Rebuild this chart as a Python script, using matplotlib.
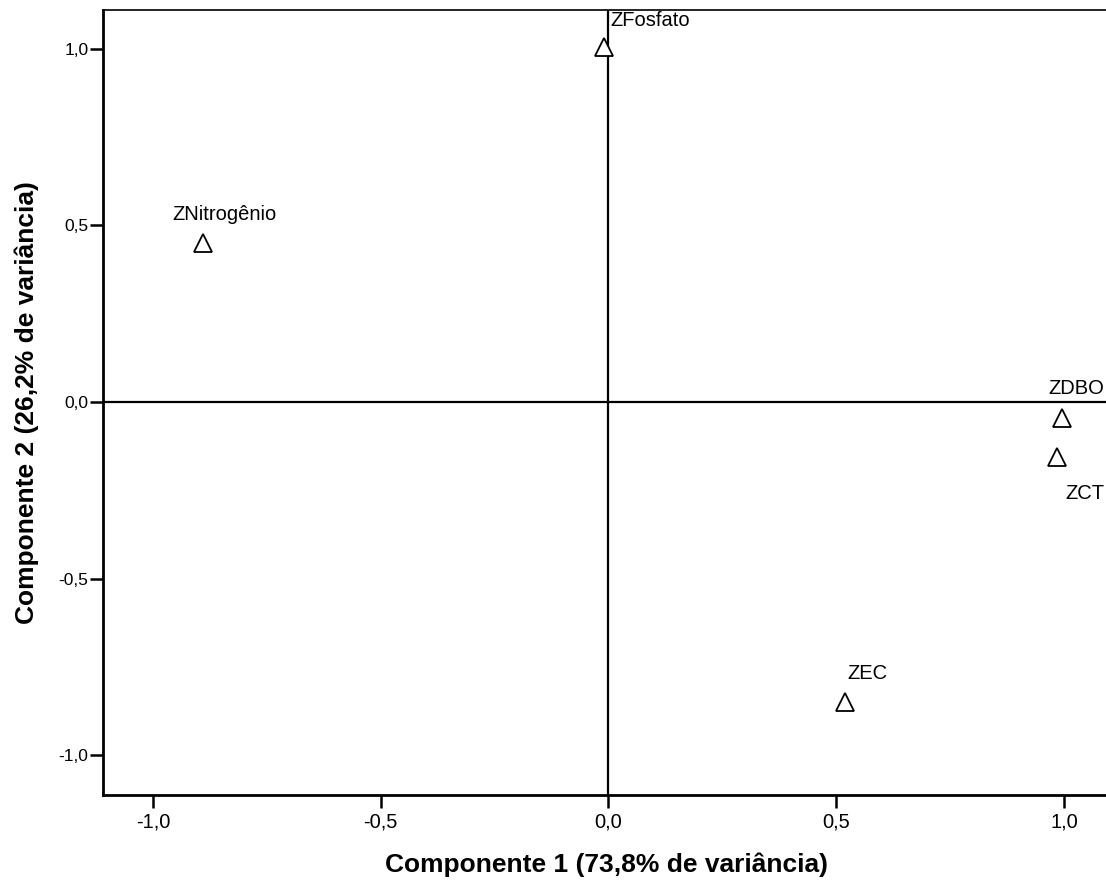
import numpy as np
import matplotlib
matplotlib.use("Agg")
import matplotlib.pyplot as plt
from matplotlib.ticker import FuncFormatter

# component loadings
names = ["ZFosfato", "ZNitrogênio", "ZDBO", "ZCT", "ZEC"]
comp1 = [-0.01, -0.89, 0.995, 0.985, 0.52]
comp2 = [1.005, 0.45, -0.045, -0.155, -0.85]

# label offsets in pixels (dx, dy), left-aligned text
offsets = [(6, 26), (-31, 28), (-13, 29), (8, -37), (2, 29)]

ticks = [-1.0, -0.5, 0.0, 0.5, 1.0]

plt.rcParams['font.family'] = ['Liberation Sans', 'DejaVu Sans']

fig = plt.figure(figsize=(11.06, 8.82), dpi=100)
ax = fig.add_axes([0.0931, 0.0986, 0.91, 0.8903])

ax.axhline(0, color='black', lw=1.6, zorder=1)
ax.axvline(0, color='black', lw=1.6, zorder=1)

ax.plot(comp1, comp2, linestyle='none', marker='^', markersize=13,
        markerfacecolor='white', markeredgecolor='black', markeredgewidth=1.3, zorder=3)

for n, x, y, off in zip(names, comp1, comp2, offsets):
    ax.annotate(n, (x, y), xytext=off, textcoords='offset pixels',
                ha='left', va='center', fontsize=14.5, annotation_clip=False)

ax.set_xlim(-1.11, 1.10)
ax.set_ylim(-1.113, 1.11)
ax.set_xticks(ticks)
ax.set_yticks(ticks)
fmt = FuncFormatter(lambda v, p: ("%.1f" % v).replace('.', ','))
ax.xaxis.set_major_formatter(fmt)
ax.yaxis.set_major_formatter(fmt)
ax.tick_params(axis='both', direction='out', length=9.5, width=1.8)
ax.tick_params(axis='x', labelsize=14.5, pad=3)
ax.tick_params(axis='y', labelsize=12.5, pad=1)

for s in ['left', 'bottom']:
    ax.spines[s].set_linewidth(2)
ax.spines['top'].set_linewidth(1.2)
ax.spines['right'].set_visible(False)

ax.set_xlabel('Componente 1 (73,8% de variância)', fontsize=19, fontweight='bold', labelpad=15)
ax.set_ylabel('Componente 2 (26,2% de variância)', fontsize=19, fontweight='bold', labelpad=14)

fig.savefig('out.png', dpi=100)
